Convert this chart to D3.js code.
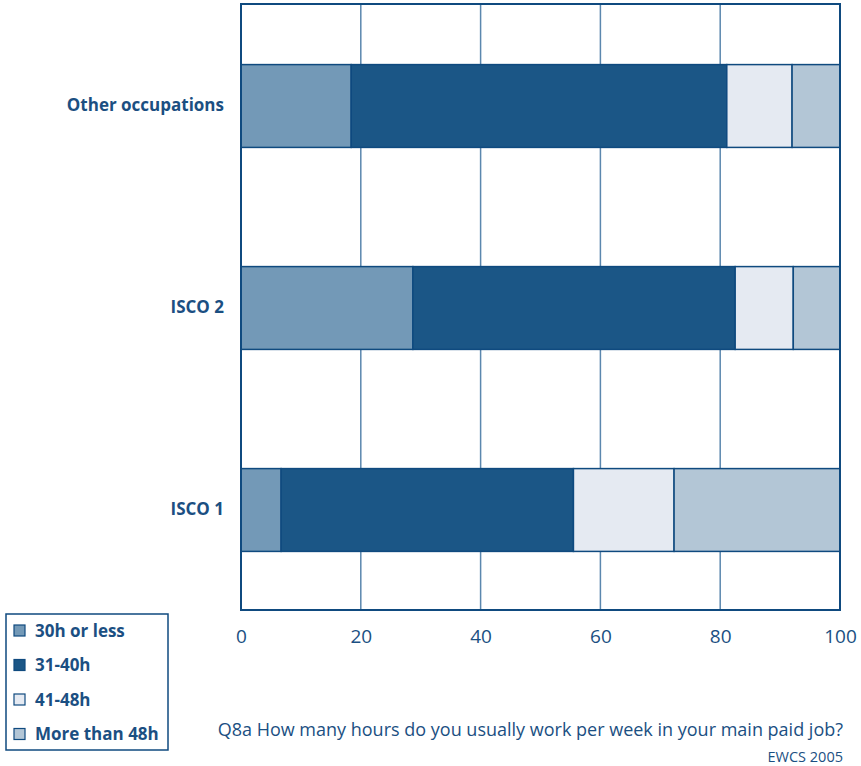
<!DOCTYPE html>
<html lang="en">
<head>
<meta charset="utf-8">
<title>Hours worked per week by occupation</title>
<script src="https://d3js.org/d3.v7.min.js"></script>
<style>
  body { margin: 0; background: #fff; }
  text { font-family: "Open Sans", "Noto Sans", sans-serif; fill: #1b4f82; }
</style>
</head>
<body>
<div id="chart"></div>
<script>
// data (percent of workers)
var categories = ["Other occupations", "ISCO 2", "ISCO 1"];
var seriesNames = ["30h or less", "31-40h", "41-48h", "More than 48h"];
var under30 = [18.4, 28.7, 6.7];
var h31to40 = [62.7, 53.8, 48.8];
var h41to48 = [10.9, 9.7, 16.8];
var over48 = [8.0, 7.8, 27.7];
var xTicks = [0, 20, 40, 60, 80, 100];
var colors = ["#7399b7", "#1b5686", "#e5eaf2", "#b3c6d6"];

var width = 861, height = 766;
var margin = {top: 4, right: 21, bottom: 156, left: 241};
var plotW = width - margin.left - margin.right;
var plotH = height - margin.top - margin.bottom;

var rows = categories.map(function(c, i) {
  return {cat: c, s0: under30[i], s1: h31to40[i], s2: h41to48[i], s3: over48[i]};
});
var stack = d3.stack().keys(["s0", "s1", "s2", "s3"]);
var layers = stack(rows);

var svg = d3.select("#chart").append("svg")
  .attr("width", width)
  .attr("height", height);

var g = svg.append("g").attr("transform", "translate(" + margin.left + "," + margin.top + ")");

var x = d3.scaleLinear().domain([0, 100]).range([0, plotW]);
var y = d3.scaleBand().domain(categories).range([0, plotH]);
var barH = y.bandwidth() * 0.41;

// vertical gridlines
g.selectAll(".grid")
  .data(xTicks.slice(1, -1))
  .enter().append("line")
  .attr("x1", function(d) { return x(d); })
  .attr("x2", function(d) { return x(d); })
  .attr("y1", 0)
  .attr("y2", plotH)
  .attr("stroke", "#5b87ae")
  .attr("stroke-width", 1.5);

// bars
g.selectAll(".layer")
  .data(layers)
  .enter().append("g")
  .attr("fill", function(d, i) { return colors[i]; })
  .selectAll("rect")
  .data(function(d) { return d; })
  .enter().append("rect")
  .attr("x", function(d) { return x(d[0]); })
  .attr("width", function(d) { return x(d[1]) - x(d[0]); })
  .attr("y", function(d) { return y(d.data.cat) + (y.bandwidth() - barH) / 2 + 1; })
  .attr("height", barH)
  .attr("stroke", "#0f4a7f")
  .attr("stroke-width", 1.5);

// plot frame
g.append("rect")
  .attr("x", 0).attr("y", 0)
  .attr("width", plotW).attr("height", plotH)
  .attr("fill", "none")
  .attr("stroke", "#0f4a7f")
  .attr("stroke-width", 2);

// x axis labels
var xAxis = d3.axisBottom(x).tickValues(xTicks).tickSize(0).tickPadding(20);
var ax = g.append("g").attr("transform", "translate(0," + plotH + ")").call(xAxis);
ax.select(".domain").remove();
ax.selectAll("text")
  .style("font-size", "19px")
  .attr("fill", "#1b4f82")
  .style("font-family", "'Open Sans', sans-serif");

// category labels
g.selectAll(".cat")
  .data(categories)
  .enter().append("text")
  .attr("x", -17)
  .attr("y", function(d) { return y(d) + y.bandwidth() / 2; })
  .attr("dy", "0.35em")
  .attr("text-anchor", "end")
  .style("font-size", "17px")
  .style("font-weight", "bold")
  .text(function(d) { return d; });

// legend
var legend = svg.append("g").attr("transform", "translate(6,614)");
legend.append("rect")
  .attr("width", 162).attr("height", 136)
  .attr("fill", "#fff")
  .attr("stroke", "#0f4a7f")
  .attr("stroke-width", 1.5);
var item = legend.selectAll(".item")
  .data(seriesNames)
  .enter().append("g")
  .attr("transform", function(d, i) { return "translate(8," + (11 + i * 34.5) + ")"; });
item.append("rect")
  .attr("width", 11).attr("height", 11)
  .attr("fill", function(d, i) { return colors[i]; })
  .attr("stroke", "#0f4a7f")
  .attr("stroke-width", 1.2);
item.append("text")
  .attr("x", 21)
  .attr("y", 6)
  .attr("dy", "0.35em")
  .style("font-size", "17px")
  .style("font-weight", "bold")
  .text(function(d) { return d; });

// source notes
svg.append("text")
  .attr("x", 843).attr("y", 736)
  .attr("text-anchor", "end")
  .style("font-size", "18px")
  .text("Q8a How many hours do you usually work per week in your main paid job?");
svg.append("text")
  .attr("x", 843).attr("y", 762)
  .attr("text-anchor", "end")
  .style("font-size", "14.5px")
  .text("EWCS 2005");
</script>
</body>
</html>
